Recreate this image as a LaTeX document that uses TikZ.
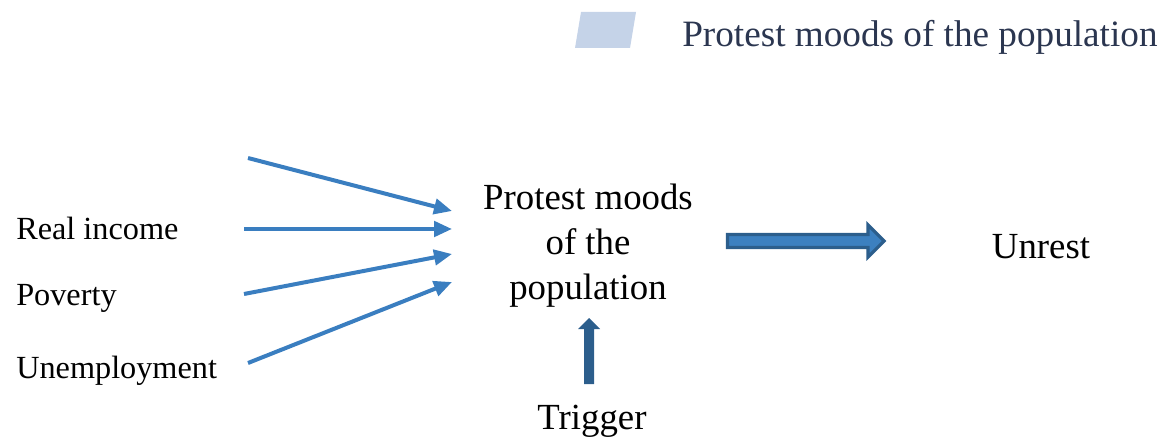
\documentclass[tikz,border=0pt]{standalone}
\usepackage{fontspec}
\setmainfont{Liberation Serif}
\usetikzlibrary{arrows.meta}
\definecolor{thinblue}{RGB}{58,126,192}
\definecolor{darkblue}{RGB}{44,94,140}
\definecolor{fillblue}{RGB}{60,128,192}
\definecolor{legendfill}{RGB}{197,211,232}
\definecolor{legendtext}{RGB}{43,54,80}
\begin{document}
\begin{tikzpicture}[x=0.75pt,y=-0.75pt,
  lbl/.style={inner sep=0pt,anchor=base west,font=\fontsize{24.2}{28}\selectfont},
  maintxt/.style={inner sep=0pt,font=\fontsize{27.6}{33.5}\selectfont,align=center},
  thinarrow/.style={draw=thinblue,line width=3pt,-{Triangle[length=13.5pt,width=11.5pt]}}]
\useasboundingbox (0,0) rectangle (1166,438);
% legend
\fill[legendfill] (581,12) -- (636,12) -- (630,48) -- (575,48) -- cycle;
\node[inner sep=0pt,anchor=base west,text=legendtext,font=\fontsize{27.9}{32}\selectfont] (legend) at (682,47) {Protest moods of the population};
% left labels
\node[lbl] (ri) at (16,239) {Real income};
\node[lbl] (pov) at (16,305) {Poverty};
\node[lbl] (unemp) at (16,378) {Unemployment};
% main texts
\node[maintxt,anchor=base] (pm) at (588,299) {Protest moods\\of the\\population};
\node[maintxt,anchor=base] (unrest) at (1041,258) {Unrest};
\node[maintxt,anchor=base] (trigger) at (592,429) {Trigger};
% arrow coordinates
\coordinate (s1) at (248,158);
\coordinate (s2) at (244,229);
\coordinate (s3) at (244,294);
\coordinate (s4) at (248,363);
\coordinate (e1) at (452,211);
\coordinate (e2) at (452,229);
\coordinate (e3) at (452,254);
\coordinate (e4) at (452,282);
\draw[thinarrow] (s1) -- (e1);
\draw[thinarrow] (s2) -- (e2);
\draw[thinarrow] (s3) -- (e3);
\draw[thinarrow] (s4) -- (e4);
% block arrow to Unrest
\filldraw[fill=fillblue,draw=darkblue,line width=2.4pt,miter limit=10]
  (727.5,234.5) -- (868,234.5) -- (868,225) -- (884,241) -- (868,257) -- (868,247.5) -- (727.5,247.5) -- cycle;
% up arrow from Trigger
\fill[darkblue] (584,384) -- (584,329) -- (578,329) -- (589,318) -- (600,329) -- (594,329) -- (594,384) -- cycle;
\end{tikzpicture}
\end{document}
